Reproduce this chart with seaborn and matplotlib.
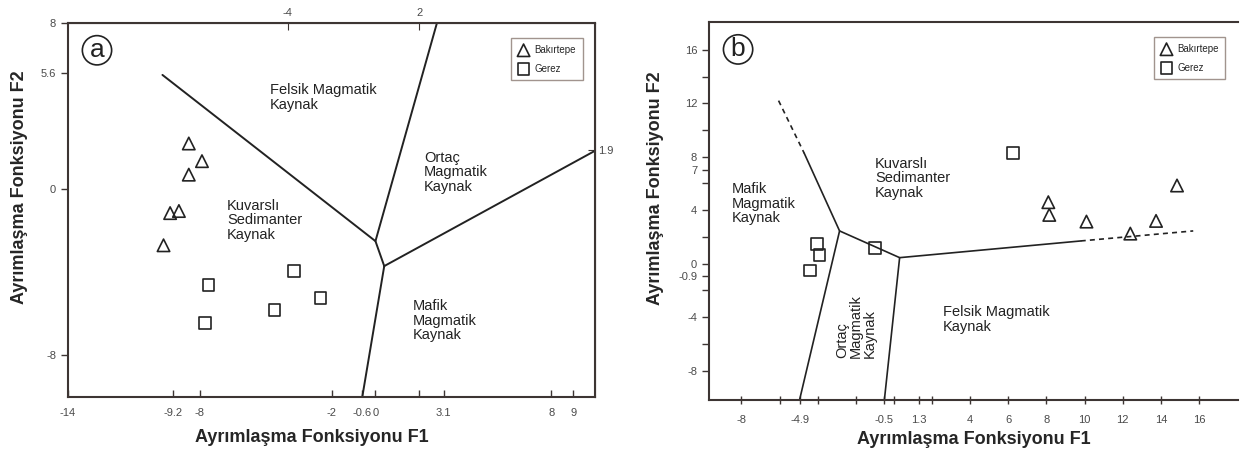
import numpy as np
import matplotlib
matplotlib.use("Agg")
import matplotlib.pyplot as plt
import seaborn as sns

sns.set_style("white")
plt.rcParams['font.family'] = ['Liberation Sans', 'DejaVu Sans']

# ---- panel (a) data ----
a_bak_f1 = [-8.5, -7.9, -8.5, -9.35, -8.95, -9.65]
a_bak_f2 = [2.2, 1.35, 0.7, -1.15, -1.05, -2.7]
a_ger_f1 = [-7.6, -3.7, -2.5, -4.6, -7.75]
a_ger_f2 = [-4.6, -3.95, -5.25, -5.8, -6.45]

# boundary lines (a): each line is a list of (F1, F2) vertices
a_lines = [
    [(-9.7, 5.5), (0.0, -2.5), (0.4, -3.7)],
    [(0.0, -2.5), (2.8, 8.0)],
    [(0.4, -3.7), (10.0, 1.85)],
    [(0.4, -3.7), (-0.6, -10.0)],
]
a_xticks = [-14, -9.2, -8, -2, -0.6, 0, 2, 3.1, 8, 9]
a_xlabels = ['-14', '-9.2', '-8', '-2', '-0.6', '0', '', '3.1', '8', '9']
a_yticks = [-8, 0, 5.6, 8]
a_top = [-4, 2]
a_right = [1.9]
a_regions = [
    ("Felsik Magmatik\nKaynak", -4.8, 5.1),
    ("Ortaç\nMagmatik\nKaynak", 2.2, 1.85),
    ("Kuvarslı\nSedimanter\nKaynak", -6.75, -0.45),
    ("Mafik\nMagmatik\nKaynak", 1.7, -5.3),
]

# ---- panel (b) data ----
b_bak_f1 = [8.1, 8.15, 10.1, 12.4, 13.75, 14.85]
b_bak_f2 = [4.6, 3.65, 3.15, 2.25, 3.2, 5.85]
b_ger_f1 = [6.25, -4.05, -3.9, -4.4, -1.0]
b_ger_f2 = [8.3, 1.45, 0.65, -0.5, 1.15]

b_solid = [
    [(-4.7, 8.25), (-2.85, 2.45), (0.3, 0.45), (9.8, 1.7)],
    [(-2.85, 2.45), (-4.95, -10.2)],
    [(0.3, 0.45), (-0.5, -10.2)],
]
b_dashed = [
    [(-6.05, 12.2), (-4.7, 8.25)],
    [(9.8, 1.7), (15.7, 2.45)],
]
b_xticks = [-8, -6, -4.9, -4, -2, -0.5, 0, 1.3, 2, 4, 6, 8, 10, 12, 14, 16]
b_xlabels = ['-8', '', '-4.9', '', '', '-0.5', '', '1.3', '', '4', '6', '8', '10', '12', '14', '16']
b_yticks = [-8, -6, -4, -2, -0.9, 0, 2, 4, 6, 7, 8, 10, 12, 14, 16]
b_ylabels = ['-8', '', '-4', '', '-0.9', '0', '', '4', '', '7', '8', '', '12', '', '16']
b_regions = [
    ("Mafik\nMagmatik\nKaynak", -8.5, 6.1),
    ("Kuvarslı\nSedimanter\nKaynak", -1.0, 8.0),
    ("Felsik Magmatik\nKaynak", 2.55, -3.1),
]

ink = '#222222'
spine = '#3d3533'
tickc = '#4a4a4a'

fig = plt.figure(figsize=(12.41, 4.54), dpi=100)
ax1 = fig.add_axes([0.0548, 0.1256, 0.4247, 0.8238])
ax2 = fig.add_axes([0.5713, 0.119, 0.4263, 0.833])


def points(ax, x1, y1, x2, y2):
    sns.scatterplot(x=x1, y=y1, marker='^', s=80, facecolor='none',
                    edgecolor=ink, linewidth=1.2, ax=ax, label='Bakırtepe')
    sns.scatterplot(x=x2, y=y2, marker='s', s=70, facecolor='none',
                    edgecolor=ink, linewidth=1.2, ax=ax, label='Gerez')
    leg = ax.legend(loc='upper right', bbox_to_anchor=(0.98, 0.965), fontsize=7,
                    frameon=True, fancybox=False, edgecolor='#8a7a72',
                    handletextpad=0.5, borderpad=0.7, labelspacing=0.9,
                    handlelength=1.2, borderaxespad=0.2)
    leg.get_frame().set_linewidth(1.0)


def style(ax, letter):
    for s in ax.spines.values():
        s.set_color(spine)
        s.set_linewidth(1.5)
    ax.set_xlabel("Ayrımlaşma Fonksiyonu F1", fontsize=13, fontweight='bold')
    ax.set_ylabel("Ayrımlaşma Fonksiyonu F2", fontsize=13, fontweight='bold')
    ax.text(0.055, 0.927, letter, transform=ax.transAxes, fontsize=19,
            ha='center', va='center', color=ink,
            bbox=dict(boxstyle='circle,pad=0.1', fc='white', ec=ink, lw=1.2))


# ---- panel (a) ----
for ln in a_lines:
    xs, ys = zip(*ln)
    ax1.plot(xs, ys, color=ink, lw=1.4)
points(ax1, a_bak_f1, a_bak_f2, a_ger_f1, a_ger_f2)
for txt, x, y in a_regions:
    ax1.text(x, y, txt, fontsize=10.5, ha='left', va='top', color=ink, linespacing=1.05)
ax1.set_xlim(-14, 10)
ax1.set_ylim(-10, 8)
ax1.set_xticks(a_xticks)
ax1.set_xticklabels(a_xlabels)
ax1.set_yticks(a_yticks)
ax1.set_yticklabels(['-8', '0', '5.6', '8'])
ax1.tick_params(axis='x', bottom=True, direction='in', length=5, width=1, colors=spine,
                labelcolor=tickc, labelsize=8, pad=8)
ax1.tick_params(axis='y', left=True, direction='out', length=5, width=1, colors=spine,
                labelcolor=tickc, labelsize=8)
top = ax1.secondary_xaxis('top')
top.set_xticks(a_top)
top.set_xticklabels(['-4', '2'])
top.tick_params(top=True, direction='in', length=5, colors=spine, labelcolor=tickc, labelsize=8)
right = ax1.secondary_yaxis('right')
right.set_yticks(a_right)
right.set_yticklabels(['1.9'])
right.tick_params(right=True, direction='in', length=5, colors=spine, labelcolor=tickc,
                  labelsize=8, pad=2)
style(ax1, 'a')
ax1.xaxis.set_label_coords(0.463, -0.085)
ax1.yaxis.set_label_coords(-0.075, 0.56)

# ---- panel (b) ----
for ln in b_solid:
    xs, ys = zip(*ln)
    ax2.plot(xs, ys, color=ink, lw=1.2)
for ln in b_dashed:
    xs, ys = zip(*ln)
    ax2.plot(xs, ys, color=ink, lw=1.2, ls=(0, (3, 2.5)))
points(ax2, b_bak_f1, b_bak_f2, b_ger_f1, b_ger_f2)
for txt, x, y in b_regions:
    ax2.text(x, y, txt, fontsize=10.5, ha='left', va='top', color=ink, linespacing=1.05)
ax2.text(-1.98, -7.05, "Ortaç\nMagmatik\nKaynak", fontsize=10.5, rotation=90,
         ha='center', va='bottom', multialignment='left', color=ink, linespacing=1.0)
ax2.set_xlim(-9.7, 18.05)
ax2.set_ylim(-10.2, 18.1)
ax2.set_xticks(b_xticks)
ax2.set_xticklabels(b_xlabels)
ax2.set_yticks(b_yticks)
ax2.set_yticklabels(b_ylabels)
ax2.tick_params(axis='x', bottom=True, direction='inout', length=6, width=1, colors=spine,
                labelcolor=tickc, labelsize=8, pad=8)
ax2.tick_params(axis='y', left=True, direction='out', length=5, width=1, colors=spine,
                labelcolor=tickc, labelsize=8)
style(ax2, 'b')
ax2.spines['right'].set_visible(False)
ax2.yaxis.set_label_coords(-0.085, 0.56)

fig.savefig("out.png", dpi=100)
